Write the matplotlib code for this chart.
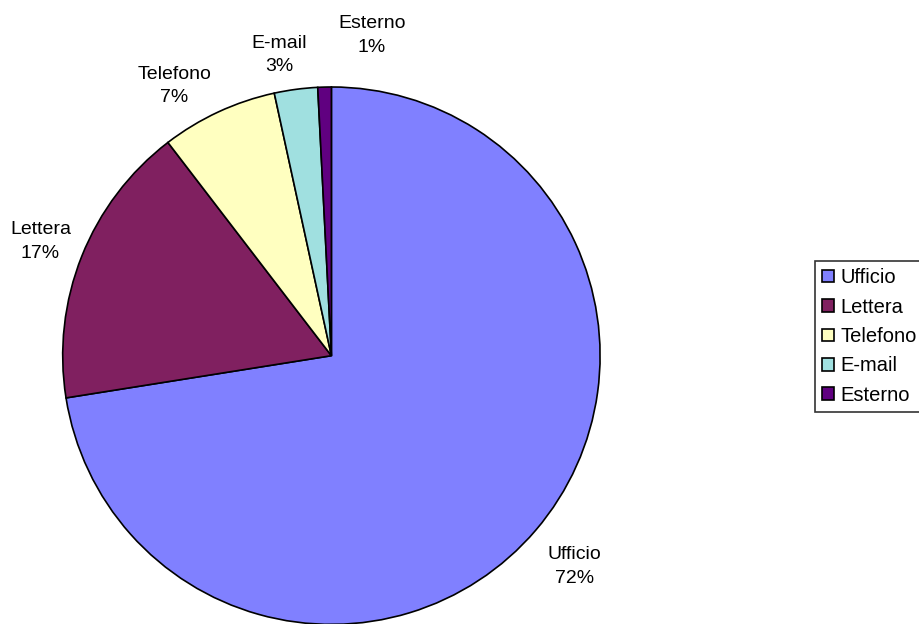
import numpy as np
import matplotlib
matplotlib.use("Agg")
import matplotlib.pyplot as plt
from matplotlib.patches import Patch

# Share of contacts by channel (percent)
categories = ["Ufficio", "Lettera", "Telefono", "E-mail", "Esterno"]
shares = [72.49, 17.1, 7.0, 2.6, 0.81]
colors = ["#8080FF", "#802060", "#FFFFC0", "#A0E0E0", "#600080"]

plt.rcParams["font.family"] = ["Liberation Sans", "DejaVu Sans"]

W, H, DPI = 920, 624, 100
fig = plt.figure(figsize=(W / DPI, H / DPI), dpi=DPI)
fig.patch.set_facecolor("white")

# pie placement in pixels
cx, cy, R = 331.4, H - 355.7, 268.7
ax = fig.add_axes([0, 0, 1, 1])

wedges, _ = ax.pie(
    shares,
    colors=colors,
    startangle=90,
    counterclock=False,
    radius=1.0,
    wedgeprops=dict(edgecolor="black", linewidth=1.2),
)
ax.set_aspect("auto")
ax.set_xlim(-cx / R, (W - cx) / R)
ax.set_ylim(-cy / R, (H - cy) / R)
ax.axis("off")

# label anchors (radius, angle in degrees) around the pie
label_polar = [(1.197, -41.0), (1.163, 158.6), (1.161, 120.2),
               (1.136, 99.9), (1.202, 82.8)]
for name, val, (r, deg) in zip(categories, shares, label_polar):
    t = np.deg2rad(deg)
    ax.text(r * np.cos(t), r * np.sin(t), f"{name}\n{val:.0f}%",
            ha="center", va="center", fontsize=14, linespacing=1.5,
            color="black")

handles = [Patch(facecolor=c, edgecolor="black", linewidth=1.2) for c in colors]
leg = fig.legend(
    handles, categories,
    loc="upper left",
    bbox_to_anchor=(815 / W, 1 - 261 / H),
    fontsize=14.5,
    frameon=True,
    fancybox=False,
    borderaxespad=0,
    borderpad=0.35,
    handlelength=0.6,
    handleheight=0.6,
    handletextpad=0.3,
    labelspacing=0.52,
)
frame = leg.get_frame()
frame.set_edgecolor("black")
frame.set_linewidth(1.2)
frame.set_facecolor("white")

fig.savefig("out.png", dpi=DPI)
